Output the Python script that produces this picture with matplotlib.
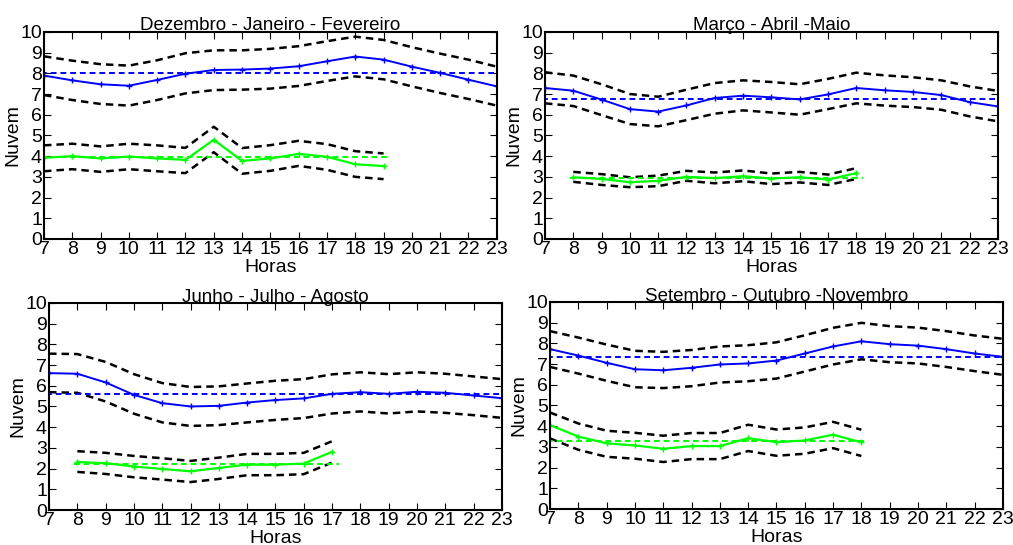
import numpy as np
import matplotlib
matplotlib.use("Agg")
import matplotlib.pyplot as plt

plt.rcParams['font.family'] = ['Liberation Sans', 'DejaVu Sans']

# horas
horas_all = list(range(7, 24))

# Dezembro - Janeiro - Fevereiro
djf_blue = [7.89, 7.66, 7.47, 7.40, 7.68, 7.98, 8.16, 8.18, 8.23, 8.34, 8.58, 8.81, 8.66, 8.32, 8.02, 7.69, 7.37]
djf_blue_up = [8.82, 8.61, 8.44, 8.37, 8.63, 8.97, 9.11, 9.11, 9.18, 9.31, 9.55, 9.77, 9.61, 9.26, 8.95, 8.66, 8.32]
djf_blue_lo = [6.95, 6.71, 6.52, 6.44, 6.71, 7.03, 7.19, 7.21, 7.26, 7.39, 7.63, 7.85, 7.71, 7.37, 7.05, 6.76, 6.44]
djf_blue_mean = 8.0
djf_horas_g = list(range(7, 20))
djf_green = [3.92, 4.00, 3.89, 3.98, 3.89, 3.82, 4.79, 3.77, 3.89, 4.11, 3.97, 3.61, 3.52]
djf_green_up = [4.52, 4.60, 4.47, 4.60, 4.52, 4.40, 5.42, 4.39, 4.53, 4.74, 4.58, 4.24, 4.13]
djf_green_lo = [3.27, 3.37, 3.24, 3.37, 3.27, 3.18, 4.19, 3.15, 3.29, 3.53, 3.34, 3.00, 2.89]
djf_green_mean = 3.94

# Marco - Abril - Maio
mam_blue = [7.29, 7.16, 6.73, 6.27, 6.15, 6.45, 6.81, 6.92, 6.84, 6.74, 6.98, 7.29, 7.18, 7.10, 6.95, 6.61, 6.40]
mam_blue_up = [8.05, 7.89, 7.47, 7.00, 6.87, 7.21, 7.53, 7.66, 7.58, 7.47, 7.73, 8.03, 7.90, 7.81, 7.66, 7.37, 7.15]
mam_blue_lo = [6.55, 6.42, 5.98, 5.55, 5.44, 5.74, 6.05, 6.21, 6.11, 6.00, 6.27, 6.55, 6.44, 6.37, 6.24, 5.92, 5.68]
mam_blue_mean = 6.77
mam_horas_g = list(range(8, 19))
mam_green = [2.98, 2.90, 2.74, 2.81, 3.00, 2.94, 3.03, 2.92, 2.98, 2.87, 3.18]
mam_green_up = [3.24, 3.13, 2.98, 3.06, 3.29, 3.21, 3.31, 3.16, 3.24, 3.11, 3.42]
mam_green_lo = [2.76, 2.61, 2.50, 2.55, 2.81, 2.69, 2.79, 2.65, 2.73, 2.61, 2.90]
mam_green_mean = 2.94

# Junho - Julho - Agosto
jja_blue = [6.61, 6.58, 6.16, 5.56, 5.16, 5.00, 5.03, 5.19, 5.31, 5.39, 5.61, 5.69, 5.61, 5.71, 5.66, 5.53, 5.40]
jja_blue_up = [7.55, 7.53, 7.15, 6.56, 6.13, 5.94, 5.97, 6.11, 6.24, 6.32, 6.55, 6.65, 6.56, 6.65, 6.58, 6.45, 6.32]
jja_blue_lo = [5.69, 5.66, 5.24, 4.65, 4.23, 4.06, 4.10, 4.23, 4.35, 4.44, 4.66, 4.76, 4.66, 4.76, 4.69, 4.58, 4.45]
jja_blue_mean = 5.58
jja_horas_g = list(range(8, 18))
jja_green = [2.32, 2.26, 2.10, 1.98, 1.87, 2.03, 2.19, 2.19, 2.24, 2.81]
jja_green_up = [2.84, 2.76, 2.61, 2.50, 2.37, 2.53, 2.71, 2.71, 2.76, 3.32]
jja_green_lo = [1.84, 1.74, 1.58, 1.47, 1.35, 1.50, 1.68, 1.68, 1.73, 2.29]
jja_green_mean = 2.21

# Setembro - Outubro - Novembro
son_blue = [7.72, 7.41, 7.06, 6.75, 6.70, 6.82, 6.98, 7.03, 7.17, 7.51, 7.85, 8.10, 7.96, 7.89, 7.72, 7.51, 7.35]
son_blue_up = [8.59, 8.28, 7.94, 7.64, 7.59, 7.68, 7.85, 7.91, 8.05, 8.39, 8.75, 8.99, 8.83, 8.76, 8.59, 8.38, 8.22]
son_blue_lo = [6.86, 6.54, 6.19, 5.88, 5.84, 5.93, 6.11, 6.17, 6.30, 6.64, 6.98, 7.23, 7.09, 7.03, 6.86, 6.66, 6.48]
son_blue_mean = 7.36
son_horas_g = list(range(7, 19))
son_green = [4.05, 3.50, 3.17, 3.07, 2.91, 3.04, 3.04, 3.42, 3.23, 3.31, 3.59, 3.22]
son_green_up = [4.66, 4.13, 3.78, 3.68, 3.54, 3.67, 3.67, 4.07, 3.84, 3.94, 4.21, 3.83]
son_green_lo = [3.41, 2.86, 2.52, 2.43, 2.27, 2.41, 2.41, 2.80, 2.57, 2.67, 2.94, 2.56]
son_green_mean = 3.30

titulos = ["Dezembro - Janeiro - Fevereiro", "Março - Abril -Maio",
           "Junho - Julho - Agosto", "Setembro - Outubro -Novembro"]

paineis = [
    (djf_blue, djf_blue_up, djf_blue_lo, djf_blue_mean, djf_horas_g, djf_green, djf_green_up, djf_green_lo, djf_green_mean),
    (mam_blue, mam_blue_up, mam_blue_lo, mam_blue_mean, mam_horas_g, mam_green, mam_green_up, mam_green_lo, mam_green_mean),
    (jja_blue, jja_blue_up, jja_blue_lo, jja_blue_mean, jja_horas_g, jja_green, jja_green_up, jja_green_lo, jja_green_mean),
    (son_blue, son_blue_up, son_blue_lo, son_blue_mean, son_horas_g, son_green, son_green_up, son_green_lo, son_green_mean),
]

# posicoes dos eixos (left, bottom, width, height)
rects = [
    [0.0434, 0.5615, 0.447, 0.380],
    [0.538, 0.5615, 0.447, 0.380],
    [0.0484, 0.0642, 0.447, 0.380],
    [0.543, 0.066, 0.447, 0.380],
]

fig = plt.figure(figsize=(10.13, 5.45), dpi=100)

for i in range(4):
    b, bu, bl, bm, hg, g, gu, gl, gm = paineis[i]
    ax = fig.add_axes(rects[i])

    ax.plot(horas_all, bu, color='black', ls=(0, (3, 2)), lw=1.8)
    ax.plot(horas_all, bl, color='black', ls=(0, (3, 2)), lw=1.8)
    ax.plot(horas_all, b, color='#0000ff', lw=1.4, marker='+', ms=4, mew=1)
    ax.plot([6.9, 23.1], [bm, bm], color='#0000ff', ls=(0, (3, 2)), lw=1.4)

    ax.plot(hg, gu, color='black', ls=(0, (3, 2)), lw=1.8)
    ax.plot(hg, gl, color='black', ls=(0, (3, 2)), lw=1.8)
    ax.plot(hg, g, color='#00ff00', lw=1.6, marker='+', ms=4, mew=1)
    ax.plot([hg[0] - 0.1, hg[-1] + 0.25], [gm, gm], color='#00ff00', ls=(0, (3, 2)), lw=1.4)

    ax.set_xlim(7, 23)
    ax.set_ylim(0, 10)
    ax.set_xticks(horas_all)
    ax.set_yticks(range(0, 11))
    ax.tick_params(direction='in', top=True, right=True, length=5, labelsize=14, pad=1.5)
    for s in ax.spines.values():
        s.set_linewidth(1.5)
    ax.set_title(titulos[i], fontsize=13.5, pad=1)
    ax.set_xlabel("Horas", fontsize=14, labelpad=0.5)
    ax.set_ylabel("Nuvem", fontsize=14, labelpad=-1)

fig.savefig("out.png", dpi=100)
